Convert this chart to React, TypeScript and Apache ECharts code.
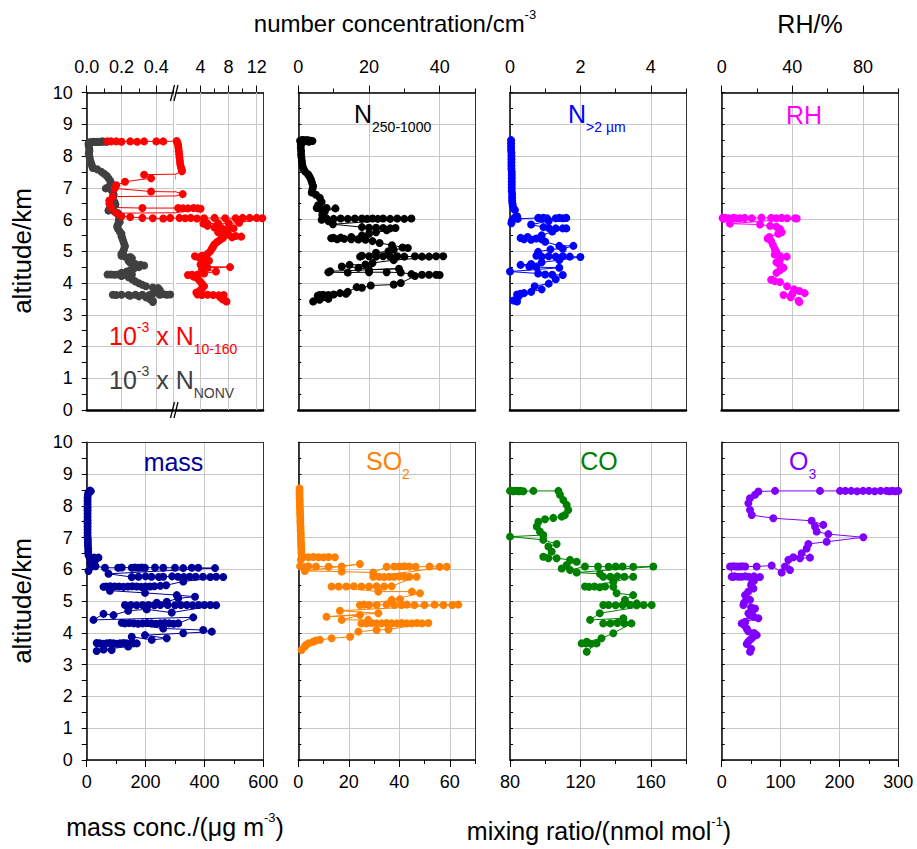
import { useEffect, useRef } from "react";
import * as echarts from "echarts";

const FONT = '"Liberation Sans", Arial, Helvetica, sans-serif';

// ---- data: [value, altitude km] ----
const nonvData = [
  [0.115, 8.45], [0.1, 8.45], [0.09, 8.46], [0.08, 8.45], [0.07, 8.44], [0.06, 8.45], [0.05, 8.44], [0.04, 8.45], [0.03, 8.44], [0.02, 8.43],
  [0.012, 8.42], [0.01, 8.38], [0.012, 8.3], [0.015, 8.22], [0.015, 8.15], [0.012, 8.08], [0.015, 8.0], [0.018, 7.92], [0.02, 7.85], [0.025, 7.78],
  [0.03, 7.7], [0.035, 7.62], [0.06, 7.58], [0.085, 7.5], [0.1, 7.44], [0.115, 7.38], [0.125, 7.3], [0.135, 7.22], [0.14, 7.15], [0.13, 7.05],
  [0.11, 6.98], [0.14, 6.94], [0.15, 6.86], [0.155, 6.78], [0.15, 6.7], [0.145, 6.62], [0.16, 6.55], [0.165, 6.47], [0.15, 6.4], [0.13, 6.33],
  [0.125, 6.28], [0.16, 6.25], [0.18, 6.2], [0.185, 6.12], [0.19, 6.05], [0.185, 5.98], [0.19, 5.92], [0.18, 5.85], [0.175, 5.78], [0.18, 5.7],
  [0.19, 5.62], [0.2, 5.55], [0.2, 5.47], [0.205, 5.4], [0.21, 5.32], [0.215, 5.24], [0.22, 5.16], [0.215, 5.08], [0.21, 5.0], [0.2, 4.92],
  [0.2, 4.86], [0.22, 4.83], [0.25, 4.82], [0.26, 4.78], [0.24, 4.7], [0.25, 4.64], [0.28, 4.6], [0.31, 4.57], [0.33, 4.55], [0.3, 4.5],
  [0.27, 4.45], [0.25, 4.4], [0.23, 4.36], [0.2, 4.32], [0.26, 4.27], [0.24, 4.27], [0.22, 4.26], [0.2, 4.27], [0.18, 4.27], [0.16, 4.26],
  [0.14, 4.27], [0.12, 4.27], [0.2, 4.22], [0.24, 4.18], [0.26, 4.12], [0.28, 4.05], [0.3, 3.99], [0.32, 3.94], [0.34, 3.9], [0.38, 3.86],
  [0.41, 3.84], [0.42, 3.78], [0.4, 3.72], [0.38, 3.66], [0.44, 3.65], [0.48, 3.64], [0.46, 3.63], [0.42, 3.63], [0.36, 3.62], [0.32, 3.63],
  [0.28, 3.63], [0.24, 3.62], [0.2, 3.63], [0.17, 3.62], [0.15, 3.63], [0.25, 3.6], [0.3, 3.58], [0.34, 3.55], [0.36, 3.5], [0.38, 3.44], [0.38, 3.4],
];

const n10Data = [
  [0.12, 8.46], [0.14, 8.46], [0.17, 8.46], [0.2, 8.45], [0.25, 8.46], [0.29, 8.45], [0.33, 8.46], [0.4, 8.46], [0.44, 8.46], [0.6, 8.47],
  [0.7, 8.42], [0.8, 8.35], [0.85, 8.25], [0.9, 8.15], [0.95, 8.05], [1.0, 7.95], [1.05, 7.85], [1.1, 7.75], [1.2, 7.65], [1.3, 7.58],
  [1.35, 7.52], [0.33, 7.41], [0.37, 7.3], [0.22, 7.19], [0.17, 7.08], [0.16, 6.98], [0.37, 6.88], [1.45, 6.8], [0.15, 6.72], [0.13, 6.6],
  [0.13, 6.5], [0.14, 6.38], [0.32, 6.36], [0.8, 6.36], [1.5, 6.35], [2.2, 6.35], [3.0, 6.36], [3.6, 6.35], [4.0, 6.34], [0.17, 6.2],
  [0.2, 6.1], [0.25, 6.08], [0.32, 6.05], [0.38, 6.04], [0.44, 6.03], [0.48, 6.05], [1.0, 6.05], [1.8, 6.04], [2.6, 6.05], [3.5, 6.03],
  [4.5, 6.04], [6.0, 6.05], [7.5, 6.04], [9.0, 6.04], [10.0, 6.05], [11.0, 6.05], [12.0, 6.05], [12.8, 6.04], [9.5, 5.9], [8.0, 5.88],
  [6.5, 5.88], [5.0, 5.87], [4.4, 5.87], [5.0, 5.8], [6.0, 5.75], [7.0, 5.73], [8.0, 5.72], [8.7, 5.72], [7.5, 5.65], [6.5, 5.6],
  [7.0, 5.55], [8.0, 5.52], [9.0, 5.48], [9.8, 5.46], [8.5, 5.44], [7.2, 5.42], [6.8, 5.36], [6.4, 5.3], [6.0, 5.22], [5.8, 5.15],
  [5.6, 5.08], [5.4, 5.0], [5.0, 4.92], [4.2, 4.86], [3.2, 4.84], [3.8, 4.8], [4.6, 4.76], [5.2, 4.7], [4.6, 4.64], [4.0, 4.58],
  [4.4, 4.52], [8.2, 4.5], [5.0, 4.48], [4.2, 4.43], [6.2, 4.36], [4.5, 4.3], [3.6, 4.27], [2.8, 4.26], [2.2, 4.25], [3.0, 4.2],
  [3.6, 4.14], [3.9, 4.06], [4.2, 3.98], [4.5, 3.9], [4.2, 3.82], [3.9, 3.76], [3.4, 3.7], [3.6, 3.64], [4.2, 3.62], [5.0, 3.63],
  [5.8, 3.62], [6.6, 3.61], [7.3, 3.62], [6.8, 3.55], [7.2, 3.48], [7.7, 3.42],
];

const n250Data = [
  [0.5, 8.48], [1, 8.5], [1.5, 8.5], [2, 8.49], [2.5, 8.5], [3, 8.49], [3.5, 8.48], [4, 8.47], [3, 8.45], [1.5, 8.45],
  [0.8, 8.42], [0.7, 8.35], [0.7, 8.25], [0.8, 8.15], [0.8, 8.05], [0.9, 7.95], [1.0, 7.85], [1.1, 7.75], [1.3, 7.65], [1.6, 7.57],
  [2.0, 7.5], [2.8, 7.42], [3.2, 7.35], [3.6, 7.25], [3.9, 7.15], [4.2, 7.05], [4.0, 6.95], [3.8, 6.85], [5.0, 6.78], [6.1, 6.68],
  [6.6, 6.55], [5.6, 6.45], [5.2, 6.36], [6.2, 6.34], [8.0, 6.36], [10.5, 6.35], [7.5, 6.25], [6.8, 6.15], [7.0, 6.08], [6.6, 5.99],
  [8.5, 5.95], [9.5, 5.93], [8.0, 6.03], [10, 6.02], [12, 6.03], [14, 6.02], [16, 6.03], [18, 6.03], [19.5, 6.02], [21, 6.03],
  [22.5, 6.02], [24, 6.03], [26, 6.02], [28, 6.03], [30, 6.02], [32, 6.03], [9.8, 5.85], [18, 5.76], [20, 5.74], [22, 5.74],
  [24, 5.73], [26, 5.72], [27.5, 5.73], [25, 5.66], [22, 5.6], [20, 5.55], [18, 5.5], [15, 5.45], [12, 5.43], [10, 5.42],
  [9.3, 5.41], [11, 5.38], [13, 5.39], [15, 5.38], [17, 5.37], [19, 5.36], [21, 5.32], [23, 5.26], [26.5, 5.19], [29.5, 5.12],
  [31, 5.1], [27, 5.05], [25.5, 5.0], [22, 4.95], [18, 4.86], [17.5, 4.83], [20, 4.84], [22, 4.83], [24, 4.84], [26, 4.83],
  [28, 4.84], [30, 4.83], [33, 4.84], [35, 4.83], [37, 4.83], [39, 4.84], [41, 4.84], [27, 4.72], [21, 4.63], [19, 4.58],
  [14.5, 4.57], [12.3, 4.52], [17, 4.48], [20, 4.42], [28.5, 4.45], [9, 4.37], [8.5, 4.34], [14, 4.33], [20, 4.34], [25, 4.34],
  [29, 4.33], [32, 4.28], [35, 4.26], [37, 4.26], [39, 4.26], [40, 4.25], [33, 4.22], [29, 4.0], [27, 3.95], [20.5, 3.92],
  [18, 3.85], [16.5, 3.87], [14, 3.72], [13.5, 3.66], [11.8, 3.68], [10, 3.64], [8.5, 3.62], [7, 3.63], [6, 3.62], [5.5, 3.6],
  [7, 3.55], [8.5, 3.5], [6, 3.47], [4.2, 3.42],
];

const n2umData = [
  [0.03, 8.5], [0.03, 8.4], [0.03, 8.3], [0.03, 8.2], [0.04, 8.1], [0.04, 8.0], [0.04, 7.9], [0.04, 7.8], [0.04, 7.7], [0.04, 7.6],
  [0.05, 7.5], [0.05, 7.4], [0.05, 7.3], [0.05, 7.2], [0.05, 7.1], [0.05, 7.0], [0.05, 6.9], [0.06, 6.8], [0.06, 6.7], [0.06, 6.6],
  [0.07, 6.5], [0.08, 6.42], [0.1, 6.35], [0.14, 6.3], [0.2, 6.1], [0.12, 6.05], [0.05, 5.95], [0.04, 5.88], [0.22, 6.02], [0.8, 6.05],
  [0.85, 6.04], [0.95, 6.05], [1.05, 6.04], [1.3, 6.04], [1.4, 6.05], [1.5, 6.04], [1.6, 6.05], [1.1, 5.95], [0.6, 5.84], [0.95, 5.76],
  [1.1, 5.73], [1.3, 5.72], [1.5, 5.72], [1.6, 5.72], [1.2, 5.62], [0.9, 5.5], [0.5, 5.45], [0.3, 5.42], [0.4, 5.38], [0.6, 5.36],
  [0.75, 5.4], [0.9, 5.38], [1.0, 5.3], [1.4, 5.17], [1.8, 5.17], [1.5, 5.08], [1.15, 5.06], [0.8, 4.98], [0.75, 4.86], [0.9, 4.83],
  [1.1, 4.84], [1.3, 4.83], [1.5, 4.84], [1.7, 4.83], [2.0, 4.82], [1.4, 4.72], [0.9, 4.65], [0.6, 4.6], [0.3, 4.57], [0.55, 4.52],
  [0.75, 4.5], [1.4, 4.48], [0.0, 4.36], [0.8, 4.3], [1.0, 4.27], [1.2, 4.26], [1.5, 4.25], [1.3, 4.12], [1.1, 3.98], [0.7, 3.9],
  [0.9, 3.8], [0.6, 3.72], [0.4, 3.68], [0.3, 3.66], [0.2, 3.64], [0.25, 3.58], [0.1, 3.45], [0.2, 3.42],
];

const rhData = [
  [0.5, 6.05], [1, 6.02], [2, 6.05], [4, 6.04], [6.6, 6.05], [8, 6.04], [10.4, 6.04], [13, 6.05], [17, 6.04], [22.5, 6.06],
  [28, 6.05], [31, 6.04], [34, 6.05], [37, 6.04], [41.5, 6.04], [42.5, 6.03], [4.7, 5.87], [21.7, 5.84], [27.4, 5.8], [31, 5.77],
  [33, 5.7], [34, 5.6], [32, 5.55], [27, 5.45], [26, 5.4], [28, 5.32], [29, 5.2], [30, 5.08], [31, 4.98], [30, 4.9],
  [33, 4.85], [36.8, 4.83], [33, 4.74], [31, 4.65], [33, 4.56], [35, 4.48], [33, 4.4], [31, 4.32], [28, 4.1], [30, 4.06],
  [33, 4.03], [37, 3.9], [41, 3.8], [44, 3.75], [47, 3.68], [40, 3.66], [35, 3.62], [39, 3.55], [43.5, 3.44], [44, 3.4],
];

const massData = [
  [11, 8.48], [14, 8.46], [6, 8.42], [4, 8.35], [3, 8.25], [3, 8.15], [3, 8.05], [3, 7.95], [3, 7.85], [3, 7.75],
  [3, 7.65], [3, 7.55], [3, 7.45], [3, 7.35], [3, 7.25], [3, 7.15], [3, 7.05], [4, 6.95], [4, 6.85], [4, 6.75],
  [5, 6.65], [5, 6.55], [6, 6.45], [10, 6.38], [25, 6.37], [40, 6.37], [30, 6.3], [20, 6.25], [12, 6.2], [17, 6.09],
  [6, 5.95], [30, 6.1], [62, 6.05], [107, 6.05], [119, 6.06], [153, 6.05], [164, 6.06], [176, 6.05], [187, 6.06], [198, 6.05],
  [232, 6.06], [260, 6.05], [300, 6.05], [328, 6.04], [357, 6.05], [379, 6.05], [436, 6.04], [74, 5.86], [153, 5.76], [176, 5.77],
  [200, 5.78], [220, 5.77], [245, 5.76], [260, 5.77], [290, 5.78], [310, 5.77], [330, 5.76], [350, 5.77], [370, 5.77], [395, 5.77],
  [420, 5.76], [440, 5.77], [464, 5.76], [328, 5.62], [270, 5.5], [250, 5.48], [230, 5.47], [215, 5.46], [200, 5.46], [185, 5.45],
  [170, 5.46], [155, 5.47], [140, 5.46], [125, 5.45], [110, 5.46], [95, 5.46], [80, 5.47], [66, 5.46], [57, 5.45], [79, 5.33],
  [198, 5.26], [306, 5.19], [368, 5.14], [311, 5.09], [272, 4.98], [238, 4.95], [130, 4.88], [150, 4.88], [170, 4.87], [190, 4.88],
  [210, 4.88], [230, 4.87], [250, 4.88], [275, 4.88], [300, 4.87], [320, 4.88], [340, 4.88], [360, 4.87], [380, 4.88], [400, 4.88],
  [420, 4.88], [440, 4.87], [289, 4.64], [204, 4.74], [141, 4.7], [91, 4.56], [57, 4.6], [23, 4.41], [362, 4.49], [311, 4.3],
  [295, 4.29], [280, 4.3], [265, 4.31], [250, 4.3], [235, 4.29], [220, 4.3], [205, 4.31], [190, 4.3], [175, 4.29], [160, 4.3],
  [145, 4.31], [130, 4.3], [119, 4.32], [260, 4.14], [396, 4.09], [425, 4.04], [328, 3.99], [198, 3.93], [272, 3.83], [221, 3.78],
  [153, 3.88], [170, 3.67], [159, 3.67], [147, 3.66], [136, 3.67], [125, 3.68], [113, 3.67], [102, 3.66], [91, 3.67], [79, 3.68],
  [68, 3.67], [57, 3.66], [45, 3.67], [34, 3.68], [141, 3.57], [57, 3.48], [85, 3.46], [34, 3.43],
];

const so2Data = [
  [0.5, 8.55], [0.5, 8.45], [0.5, 8.35], [0.5, 8.25], [0.6, 8.15], [0.6, 8.05], [0.6, 7.95], [0.7, 7.85], [0.7, 7.75], [0.8, 7.65],
  [0.8, 7.55], [0.8, 7.45], [0.9, 7.35], [0.9, 7.25], [1.0, 7.15], [1.0, 7.05], [1.0, 6.95], [1.1, 6.85], [1.1, 6.75], [1.2, 6.65],
  [1.2, 6.55], [1.3, 6.45], [2, 6.39], [4, 6.38], [6, 6.39], [8, 6.38], [10, 6.38], [12, 6.39], [14.5, 6.38], [1, 6.3],
  [0.7, 6.1], [2.6, 6.07], [4, 6.1], [7, 6.09], [12, 6.08], [17.2, 6.09], [24.4, 6.17], [2.6, 5.95], [17.2, 5.93], [29.7, 5.9],
  [35, 6.08], [38, 6.09], [40, 6.09], [42, 6.1], [44, 6.09], [46.5, 6.08], [52, 6.09], [56, 6.08], [58.8, 6.08], [29.7, 5.77],
  [32, 5.77], [34, 5.76], [36, 5.77], [38, 5.77], [40, 5.78], [42, 5.77], [44, 5.77], [46.9, 5.77], [37, 5.47], [34, 5.46],
  [31, 5.47], [28, 5.46], [25, 5.46], [22, 5.47], [19, 5.46], [16, 5.46], [13.2, 5.46], [31.7, 5.3], [45, 5.3], [48.2, 5.25],
  [37, 5.04], [40.3, 5.06], [24.4, 4.88], [26, 4.89], [28, 4.88], [31, 4.88], [35, 4.89], [38, 4.88], [41, 4.88], [43, 4.89],
  [46, 4.88], [50, 4.88], [54, 4.89], [57.5, 4.88], [61, 4.88], [63.4, 4.89], [16.5, 4.7], [31.7, 4.62], [11.2, 4.51], [24.4, 4.56],
  [17.2, 4.41], [27.7, 4.41], [25, 4.3], [27, 4.3], [29, 4.31], [31, 4.3], [33, 4.3], [35, 4.31], [37, 4.3], [39, 4.3],
  [41, 4.31], [43, 4.3], [45, 4.3], [47, 4.31], [49, 4.3], [51.5, 4.31], [35.7, 4.11], [31, 4.09], [23.8, 4.04], [20.5, 3.88],
  [13.2, 3.83], [8.6, 3.78], [7, 3.76], [5.9, 3.72], [4, 3.67], [3, 3.62], [2.6, 3.57], [1.3, 3.46],
];

const coData = [
  [80, 8.47], [81, 8.47], [82, 8.46], [83, 8.47], [84, 8.47], [85, 8.46], [86, 8.47], [87.6, 8.46], [93.3, 8.47], [107.5, 8.47],
  [108.4, 8.35], [110.3, 8.18], [112.2, 8.03], [113.1, 7.87], [111.2, 7.71], [109.4, 7.66], [104.6, 7.62], [99.9, 7.58], [96.1, 7.5], [95.2, 7.35],
  [97, 7.19], [98.9, 7.08], [80, 7.03], [98.9, 6.93], [106.5, 6.8], [101.8, 6.72], [103.7, 6.56], [98.9, 6.4], [101.8, 6.35], [106.5, 6.35],
  [114.1, 6.3], [117.9, 6.24], [112.2, 6.14], [109.4, 6.03], [114.1, 5.98], [122.6, 6.09], [130, 6.09], [136, 6.08], [140, 6.09], [144, 6.09],
  [150, 6.08], [161.4, 6.09], [117.9, 5.9], [131.1, 5.86], [133, 5.77], [137, 5.77], [141, 5.78], [145, 5.77], [150, 5.77], [138.7, 5.6],
  [122.6, 5.46], [125, 5.45], [128, 5.46], [131, 5.44], [134, 5.46], [138.7, 5.45], [140.6, 5.25], [150, 5.19], [145.3, 5.04], [152, 4.93],
  [133, 4.88], [136, 4.88], [140, 4.87], [144, 4.88], [148, 4.88], [152, 4.87], [156, 4.88], [160.5, 4.88], [131, 4.62], [125.5, 4.41],
  [144.4, 4.46], [133, 4.3], [137, 4.3], [141, 4.31], [145, 4.3], [149, 4.3], [138.7, 3.99], [132, 3.83], [123.6, 3.72], [120.7, 3.67],
  [123, 3.67], [126, 3.66], [129.2, 3.67], [123.6, 3.41],
];

const o3Data = [
  [300, 8.47], [295, 8.46], [290, 8.47], [285, 8.46], [280, 8.47], [270, 8.47], [260, 8.46], [250, 8.47], [240, 8.47], [230, 8.46],
  [220, 8.47], [210, 8.47], [201, 8.47], [167, 8.47], [90.6, 8.47], [62.3, 8.45], [56.6, 8.35], [48.1, 8.24], [45.3, 8.08], [48.1, 7.87],
  [51, 7.71], [87.7, 7.61], [152.8, 7.53], [172.6, 7.4], [158.5, 7.35], [161.3, 7.19], [181.1, 7.11], [240.6, 7.01], [178.3, 6.87], [147.2, 6.8],
  [144.3, 6.66], [135.8, 6.51], [150, 6.37], [133, 6.35], [121.7, 6.38], [113.2, 6.3], [116, 5.98], [107.5, 6.09], [101.9, 5.9], [84.9, 6.12],
  [59.4, 6.09], [40, 6.09], [35, 6.1], [30, 6.09], [25, 6.09], [20, 6.1], [14.2, 6.09], [19.8, 5.77], [17, 5.77], [22, 5.78],
  [28, 5.77], [34, 5.77], [40, 5.78], [46, 5.77], [55, 5.78], [65, 5.76], [55, 5.65], [50.9, 5.56], [50, 5.5], [53.8, 5.4],
  [45, 5.3], [39.6, 5.19], [42, 5.1], [48.1, 5.04], [38, 4.95], [36.8, 4.88], [50, 4.8], [56.6, 4.77], [52, 4.7], [45.3, 4.62],
  [48, 4.55], [55, 4.5], [62.3, 4.46], [40, 4.35], [34, 4.3], [38, 4.25], [42.5, 4.14], [45, 4.05], [55, 4.0], [59.4, 3.93],
  [52, 3.85], [48.1, 3.78], [45, 3.72], [42.5, 3.65], [50, 3.5], [48.1, 3.41],
];

// ---- colors ----
const RED = "#ff0000";
const GRAY = "#404040";
const BLUE = "#0000ff";
const MAGENTA = "#ff00ff";
const NAVY = "#000099";
const ORANGE = "#ff8000";
const GREEN = "#008000";
const PURPLE = "#8000ff";
const GRID_COLOR = "#c8c8c8";

type SeriesSpec = { data: number[][]; color: string; gridLines?: number[] };
type PanelSpec = {
  left: number; width: number; top: number; height: number;
  pos: "top" | "bottom";
  min: number; max: number; interval?: number;
  minorStep?: number; majorCustom?: number[]; minorCustom?: number[];
  fmt?: (v: number) => string;
  hideMaxLabel?: boolean;
  yLabels: boolean; leftLine: boolean; rightLine: boolean;
  oppWidth: number; oppColor: string;
  series: SeriesSpec[];
};

function buildOption() {
  const grid: any[] = [];
  const xAxis: any[] = [];
  const yAxis: any[] = [];
  const series: any[] = [];
  const axisLineStyle = { color: "#000", width: 1.5 };
  const tickLine = { color: "#000", width: 1 };

  function addPanel(p: PanelSpec) {
    const g = grid.length;
    grid.push({ left: p.left, top: p.top, width: p.width, height: p.height, outerBoundsMode: "none" });
    const xi = xAxis.length;
    const xa: any = {
      gridIndex: g, type: "value", position: p.pos, min: p.min, max: p.max,
      axisLine: { show: true, onZero: false, lineStyle: axisLineStyle },
      axisTick: { show: true, inside: false, length: 7, lineStyle: tickLine },
      axisLabel: {
        show: true, color: "#000", fontSize: 18, fontFamily: FONT,
        margin: p.pos === "top" ? 17 : 13, showMaxLabel: !p.hideMaxLabel, showMinLabel: true,
      },
      splitLine: { show: !p.majorCustom, lineStyle: { color: GRID_COLOR, width: 1 } },
    };
    if (p.interval !== undefined) xa.interval = p.interval;
    if (p.fmt) xa.axisLabel.formatter = p.fmt;
    if (p.majorCustom) {
      xa.axisTick.customValues = p.majorCustom;
      xa.axisLabel.customValues = p.majorCustom;
    }
    xAxis.push(xa);
    const yi = yAxis.length;
    yAxis.push({
      gridIndex: g, type: "value", position: "left", min: 0, max: 10, interval: 1,
      axisLine: { show: p.leftLine, onZero: false, lineStyle: axisLineStyle },
      axisTick: { show: p.leftLine, inside: !p.yLabels, length: p.yLabels ? 5 : 3, lineStyle: tickLine },
      minorTick: { show: p.leftLine, splitNumber: 2, length: p.yLabels ? 5 : 3, lineStyle: tickLine },
      axisLabel: { show: p.yLabels, color: "#000", fontSize: 18, fontFamily: FONT, margin: 14 },
      splitLine: { show: true, lineStyle: { color: GRID_COLOR, width: 1 } },
    });
    p.series.forEach((s) => {
      const ser: any = {
        type: "line", xAxisIndex: xi, yAxisIndex: yi, data: s.data,
        symbol: "circle", symbolSize: 8, showAllSymbol: true, clip: true, silent: true,
        lineStyle: { color: s.color, width: 1 }, itemStyle: { color: s.color },
        emphasis: { disabled: true },
      };
      if (s.gridLines) {
        ser.markLine = {
          silent: true, symbol: ["none", "none"], label: { show: false }, z: 1,
          lineStyle: { color: GRID_COLOR, width: 1, type: "solid" },
          emphasis: { disabled: true },
          data: s.gridLines.map((v) => ({ xAxis: v })),
        };
      }
      series.push(ser);
    });

    // helper grid: minor ticks, opposite frame line, right frame line
    const h = grid.length;
    grid.push({ left: p.left, top: p.top, width: p.width, height: p.height, outerBoundsMode: "none" });
    const minorAxis: any = {
      gridIndex: h, type: "value", position: p.pos, min: p.min, max: p.max,
      axisLine: { show: false, onZero: false },
      axisTick: { show: true, inside: false, length: 4, lineStyle: tickLine },
      axisLabel: { show: false }, splitLine: { show: false },
    };
    if (p.minorStep !== undefined) minorAxis.interval = p.minorStep;
    if (p.minorCustom) minorAxis.axisTick.customValues = p.minorCustom;
    xAxis.push(minorAxis);
    xAxis.push({
      gridIndex: h, type: "value", position: p.pos === "top" ? "bottom" : "top", min: p.min, max: p.max,
      axisLine: { show: true, onZero: false, lineStyle: { color: p.oppColor, width: p.oppWidth } },
      axisTick: { show: false }, axisLabel: { show: false }, splitLine: { show: false },
    });
    yAxis.push({
      gridIndex: h, type: "value", position: "right", min: 0, max: 10,
      axisLine: { show: p.rightLine, onZero: false, lineStyle: { color: "#333", width: 1 } },
      axisTick: { show: false }, axisLabel: { show: false }, splitLine: { show: false },
    });
  }

  const T1 = 92.5, H1 = 317.5, T2 = 442.3, H2 = 317.7;
  const topOpp = { oppWidth: 2.6, oppColor: "#000" };
  const botOpp = { oppWidth: 1, oppColor: "#333" };

  // top row, panel 1 (broken axis)
  addPanel({
    left: 86.7, width: 87, top: T1, height: H1, pos: "top", min: 0, max: 0.5, interval: 0.2, minorStep: 0.1,
    fmt: (v: number) => v.toFixed(1), hideMaxLabel: true, yLabels: true, leftLine: true, rightLine: false, ...topOpp,
    series: [{ data: nonvData, color: GRAY }, { data: n10Data, color: RED }],
  });
  addPanel({
    left: 176, width: 87, top: T1, height: H1, pos: "top", min: 0.5, max: 12.9,
    majorCustom: [4, 8, 12], minorCustom: [2, 6, 10], yLabels: false, leftLine: false, rightLine: true, ...topOpp,
    series: [{ data: n10Data, color: RED, gridLines: [4, 8, 12] }],
  });
  addPanel({
    left: 298.3, width: 176.7, top: T1, height: H1, pos: "top", min: 0, max: 50, interval: 20, minorStep: 10,
    hideMaxLabel: true, yLabels: false, leftLine: true, rightLine: true, ...topOpp,
    series: [{ data: n250Data, color: "#000" }],
  });
  addPanel({
    left: 510, width: 176, top: T1, height: H1, pos: "top", min: 0, max: 5, interval: 2, minorStep: 1,
    hideMaxLabel: true, yLabels: false, leftLine: true, rightLine: true, ...topOpp,
    series: [{ data: n2umData, color: BLUE }],
  });
  addPanel({
    left: 721.7, width: 176.6, top: T1, height: H1, pos: "top", min: 0, max: 100, interval: 40, minorStep: 20,
    hideMaxLabel: true, yLabels: false, leftLine: true, rightLine: true, ...topOpp,
    series: [{ data: rhData, color: MAGENTA }],
  });
  // bottom row
  addPanel({
    left: 86.7, width: 176.6, top: T2, height: H2, pos: "bottom", min: 0, max: 600, interval: 200, minorStep: 100,
    yLabels: true, leftLine: true, rightLine: true, ...botOpp,
    series: [{ data: massData, color: NAVY }],
  });
  addPanel({
    left: 298.3, width: 176.7, top: T2, height: H2, pos: "bottom", min: 0, max: 70, interval: 20, minorStep: 10,
    hideMaxLabel: true, yLabels: false, leftLine: true, rightLine: true, ...botOpp,
    series: [{ data: so2Data, color: ORANGE }],
  });
  addPanel({
    left: 510, width: 176, top: T2, height: H2, pos: "bottom", min: 80, max: 180, interval: 40, minorStep: 20,
    hideMaxLabel: true, yLabels: false, leftLine: true, rightLine: true, ...botOpp,
    series: [{ data: coData, color: GREEN }],
  });
  addPanel({
    left: 721.7, width: 176.6, top: T2, height: H2, pos: "bottom", min: 0, max: 300, interval: 100, minorStep: 50,
    yLabels: false, leftLine: true, rightLine: true, ...botOpp,
    series: [{ data: o3Data, color: PURPLE }],
  });

  // ---- texts ----
  function rich(parts: [string, string][], color: string, M: number, S: number, x: number, y: number, align: string) {
    const P = 0.13 * S + 0.07 * M;
    const subTop = P + 0.8065 * M - 0.13 * S;
    const base = { fontFamily: FONT, fill: color };
    return {
      type: "text", x, y, z: 100, silent: true,
      style: {
        text: parts.map(([k, t]) => `{${k}|${t}}`).join(""),
        align, verticalAlign: "top", fill: color, fontFamily: FONT, fontSize: M,
        rich: {
          m: { ...base, fontSize: M, lineHeight: M, padding: [P, 0, 0, 0], verticalAlign: "top" },
          sup: { ...base, fontSize: S, lineHeight: S, padding: [0, 0, 0, 0], verticalAlign: "top" },
          sub: { ...base, fontSize: S, lineHeight: S, padding: [subTop, 0, 0, 0], verticalAlign: "top" },
        },
      },
    };
  }

  const graphic: any[] = [
    rich([["m", "number concentration/cm"], ["sup", "-3"]], "#000", 24, 13, 395, 8, "center"),
    rich([["m", "RH/%"]], "#000", 25, 13, 810, 8, "center"),
    rich([["m", "mass conc./(μg m"], ["sup", "-3"], ["m", ")"]], "#000", 25, 13, 175, 811, "center"),
    rich([["m", "mixing ratio/(nmol mol"], ["sup", "-1"], ["m", ")"]], "#000", 25, 13, 599, 815, "center"),
    rich([["m", "N"], ["sub", "250-1000"]], "#000", 25, 14, 354, 98, "left"),
    rich([["m", "N"], ["sub", ">2 µm"]], BLUE, 25, 14, 568, 98, "left"),
    rich([["m", "RH"]], MAGENTA, 25, 14, 804, 99, "center"),
    rich([["m", "10"], ["sup", "-3"], ["m", " x N"], ["sub", "10-160"]], RED, 25, 14, 109, 320, "left"),
    rich([["m", "10"], ["sup", "-3"], ["m", " x N"], ["sub", "NONV"]], GRAY, 25, 14, 109, 364, "left"),
    rich([["m", "mass"]], NAVY, 25, 14, 173.5, 446, "center"),
    rich([["m", "SO"], ["sub", "2"]], ORANGE, 25, 14, 366, 445, "left"),
    rich([["m", "CO"]], GREEN, 25, 14, 599, 445, "center"),
    rich([["m", "O"], ["sub", "3"]], PURPLE, 25, 14, 789, 445, "left"),
    {
      type: "text", x: 22, y: 251, rotation: Math.PI / 2, z: 100, silent: true,
      style: { text: "altitude/km", align: "center", verticalAlign: "middle", fontSize: 26, fontFamily: FONT, fill: "#000" },
    },
    {
      type: "text", x: 22, y: 601, rotation: Math.PI / 2, z: 100, silent: true,
      style: { text: "altitude/km", align: "center", verticalAlign: "middle", fontSize: 26, fontFamily: FONT, fill: "#000" },
    },
  ];
  // axis break marks
  const breakMarks = [
    [170.5, 101, 174.5, 85], [174, 101, 178, 85],
    [170.5, 418, 174.5, 402], [174, 418, 178, 402],
  ];
  breakMarks.forEach(([x1, y1, x2, y2]) => {
    graphic.push({
      type: "line", z: 100, silent: true,
      shape: { x1, y1, x2, y2 },
      style: { stroke: "#000", lineWidth: 1.3 },
    });
  });

  return {
    animation: false,
    backgroundColor: "#fff",
    grid, xAxis, yAxis, series, graphic,
  };
}

export default function App() {
  const ref = useRef<HTMLDivElement>(null);
  useEffect(() => {
    if (!ref.current) return;
    const chart = echarts.init(ref.current, null, { renderer: "svg" });
    chart.setOption(buildOption() as any);
    return () => chart.dispose();
  }, []);
  return (
    <div
      ref={ref}
      style={{ position: "absolute", left: 0, top: 0, width: 917, height: 849, background: "#fff" }}
    />
  );
}
